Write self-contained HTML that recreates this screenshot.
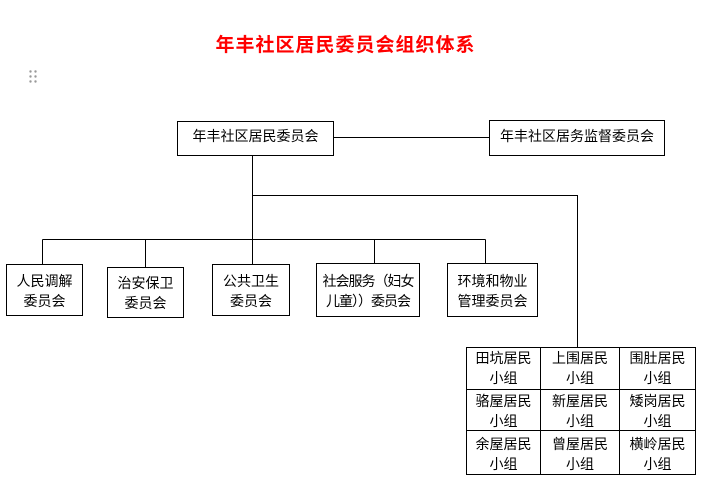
<!DOCTYPE html>
<html>
<head>
<meta charset="utf-8">
<style>
  html, body { margin:0; padding:0; background:#fff; }
  body { width:701px; height:501px; position:relative; overflow:hidden;
         font-family:"Liberation Sans","Noto Sans CJK SC","WenQuanYi Zen Hei",sans-serif; }
  .t { position:absolute; font-size:14px; line-height:20px; color:#000; text-align:center; white-space:nowrap; }
  .title { position:absolute; left:205px; width:281px; top:35px; text-align:center;
           font-size:19px; letter-spacing:1px; line-height:22px; font-weight:bold; color:#ff0000; white-space:nowrap; }
  svg { position:absolute; left:0; top:0; }
</style>
</head>
<body>
<svg width="701" height="501" viewBox="0 0 701 501">
  <g fill="#999">
    <circle cx="30.5" cy="71.5" r="1.2"/><circle cx="35.5" cy="71.5" r="1.2"/>
    <circle cx="30.5" cy="76.5" r="1.2"/><circle cx="35.5" cy="76.5" r="1.2"/>
    <circle cx="30.5" cy="81.5" r="1.2"/><circle cx="35.5" cy="81.5" r="1.2"/>
  </g>
  <g fill="none" stroke="#000" stroke-width="1">
    <rect x="177.5" y="121.5" width="156" height="34"/>
    <rect x="489.5" y="120.5" width="175" height="35"/>
    <line x1="333.5" y1="137.5" x2="489.5" y2="137.5"/>
    <line x1="252.5" y1="155.5" x2="252.5" y2="264.5"/>
    <polyline points="252.5,195.5 577.5,195.5 577.5,347.5"/>
    <line x1="42.5" y1="239.5" x2="485.5" y2="239.5"/>
    <line x1="42.5" y1="239.5" x2="42.5" y2="264.5"/>
    <line x1="145.5" y1="239.5" x2="145.5" y2="267.5"/>
    <line x1="374.5" y1="239.5" x2="374.5" y2="263.5"/>
    <line x1="485.5" y1="239.5" x2="485.5" y2="263.5"/>
    <rect x="6.5" y="264.5" width="76" height="51"/>
    <rect x="107.5" y="267.5" width="76" height="50"/>
    <rect x="212.5" y="264.5" width="77" height="51"/>
    <rect x="316.5" y="263.5" width="103" height="53"/>
    <rect x="447.5" y="263.5" width="90" height="53"/>
    <rect x="466.5" y="347.5" width="229" height="127"/>
    <line x1="540.5" y1="347.5" x2="540.5" y2="474.5"/>
    <line x1="619.5" y1="347.5" x2="619.5" y2="474.5"/>
    <line x1="466.5" y1="389.5" x2="695.5" y2="389.5"/>
    <line x1="466.5" y1="430.5" x2="695.5" y2="430.5"/>
  </g>
</svg>

<div class="title">年丰社区居民委员会组织体系</div>

<div class="t" style="left:177px;width:157px;top:126px;">年丰社区居民委员会</div>
<div class="t" style="left:489px;width:176px;top:126px;">年丰社区居务监督委员会</div>

<div class="t" style="left:6px;width:77px;top:271px;">人民调解<br>委员会</div>
<div class="t" style="left:107px;width:77px;top:273px;">治安保卫<br>委员会</div>
<div class="t" style="left:212px;width:78px;top:271px;">公共卫生<br>委员会</div>
<div class="t" style="left:316px;width:104px;top:271px;letter-spacing:-1px;">社会服务（妇女<br>儿童））委员会</div>
<div class="t" style="left:447px;width:91px;top:271px;">环境和物业<br>管理委员会</div>

<div class="t" style="left:466px;width:75px;top:348px;">田坑居民<br>小组</div>
<div class="t" style="left:540px;width:80px;top:348px;">上围居民<br>小组</div>
<div class="t" style="left:619px;width:77px;top:348px;">围肚居民<br>小组</div>

<div class="t" style="left:466px;width:75px;top:391px;">骆屋居民<br>小组</div>
<div class="t" style="left:540px;width:80px;top:391px;">新屋居民<br>小组</div>
<div class="t" style="left:619px;width:77px;top:391px;">矮岗居民<br>小组</div>

<div class="t" style="left:466px;width:75px;top:434px;">余屋居民<br>小组</div>
<div class="t" style="left:540px;width:80px;top:434px;">曾屋居民<br>小组</div>
<div class="t" style="left:619px;width:77px;top:434px;">横岭居民<br>小组</div>
</body>
</html>
